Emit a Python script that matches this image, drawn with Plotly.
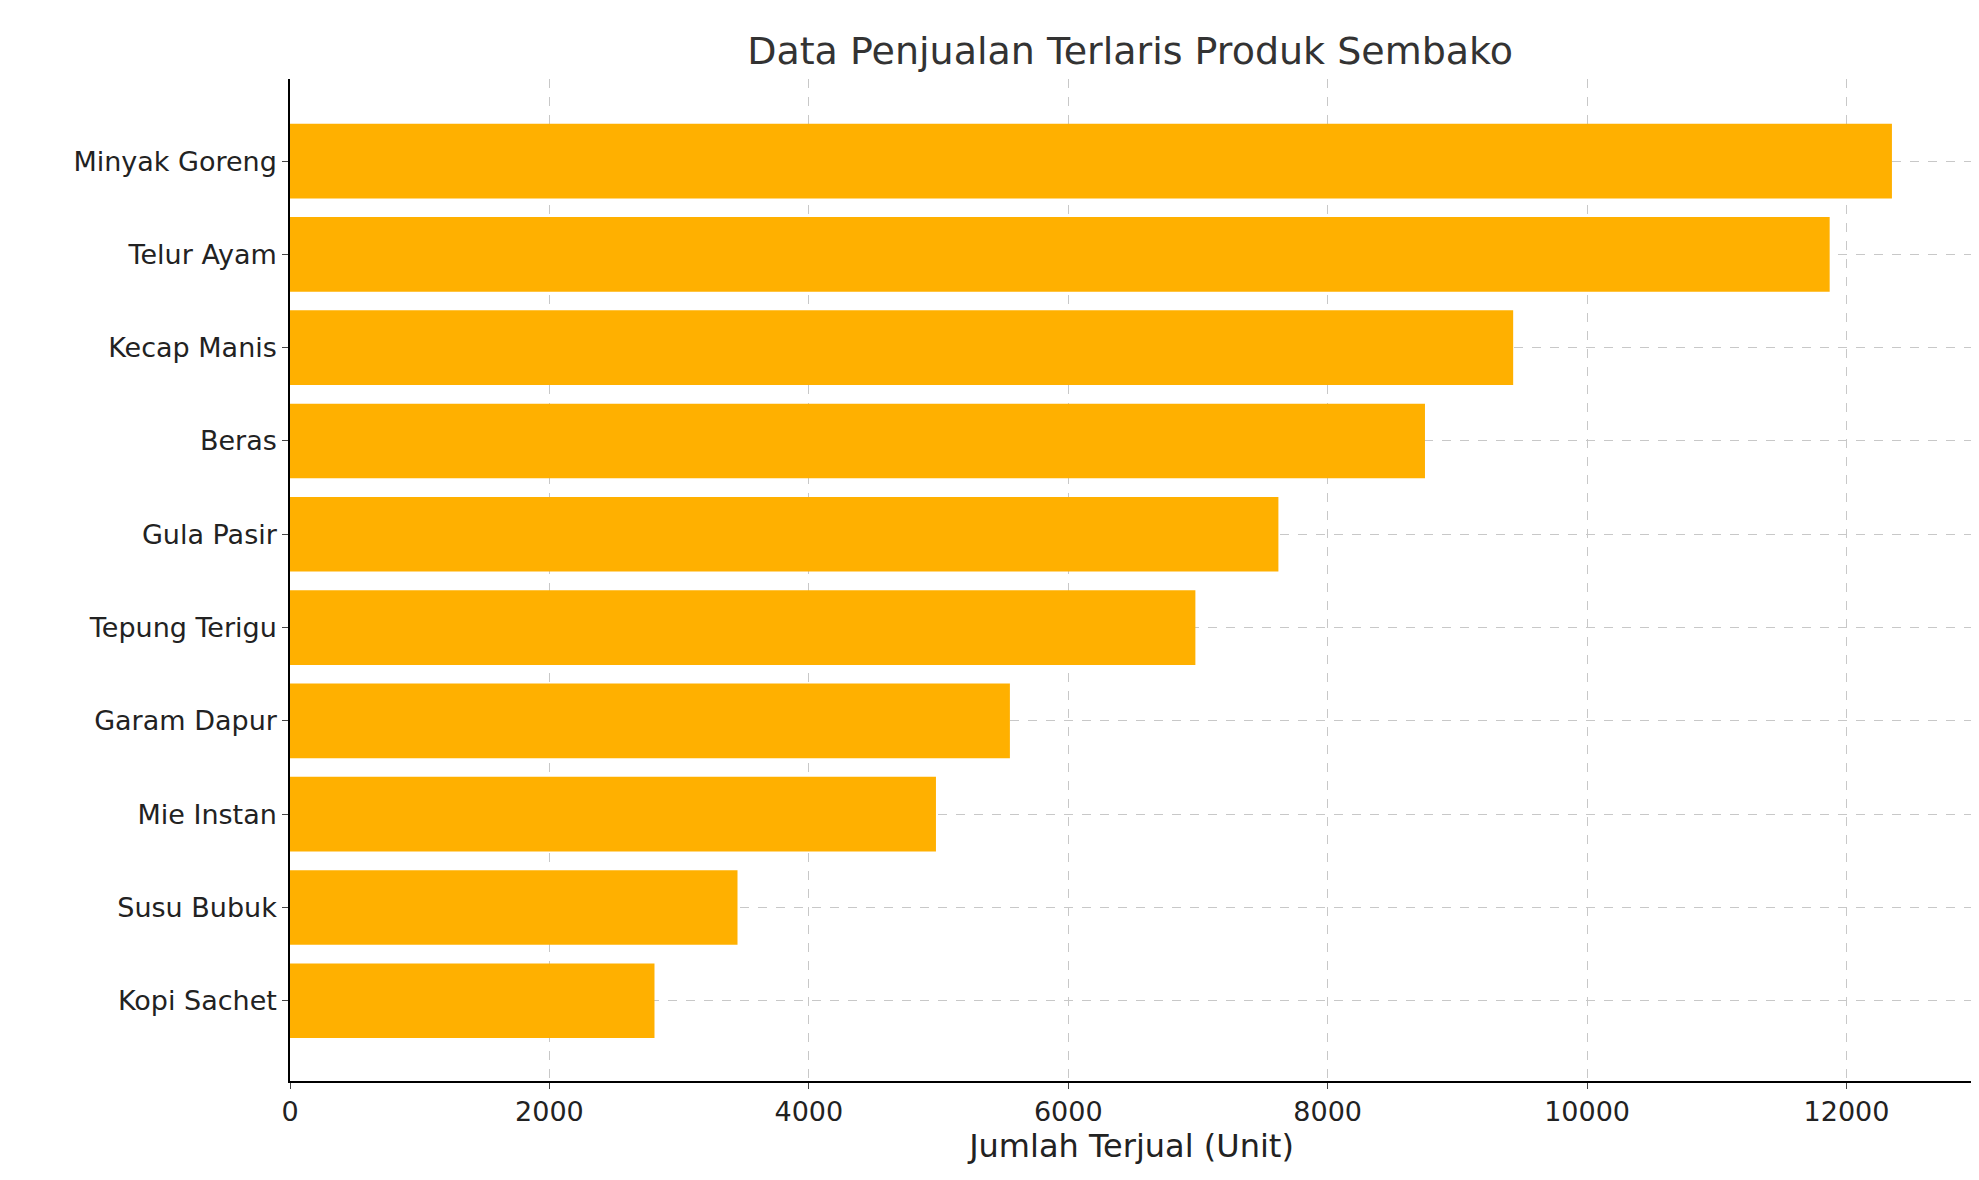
import plotly.graph_objects as go

products = ["Minyak Goreng", "Telur Ayam", "Kecap Manis", "Beras", "Gula Pasir",
            "Tepung Terigu", "Garam Dapur", "Mie Instan", "Susu Bubuk", "Kopi Sachet"]
sold = [12350, 11870, 9430, 8750, 7620, 6980, 5550, 4980, 3450, 2810]

fig = go.Figure(go.Bar(
    x=sold, y=products, orientation="h",
    marker=dict(color="#FFB000", line=dict(width=0)), width=0.8,
))

fig.update_layout(
    width=1979, height=1180,
    paper_bgcolor="white", plot_bgcolor="white",
    font=dict(family="DejaVu Sans", size=27, color="#222"),
    title=dict(text="Data Penjualan Terlaris Produk Sembako", x=0.567, xanchor="center",
               y=0.975, font=dict(size=38, color="#333")),
    margin=dict(l=282, r=14, t=71, b=107),
    showlegend=False,
)
fig.update_xaxes(
    range=[0, 12975], dtick=2000, tickformat="d",
    title=dict(text="Jumlah Terjual (Unit)", standoff=8),
    showline=True, linecolor="black", linewidth=1.5, ticks="outside", ticklen=6,
    showgrid=True, gridcolor="#c8c8c8", griddash="dash", zeroline=False,
)
fig.update_yaxes(
    categoryorder="array", categoryarray=products, range=[9.86, -0.88],
    showline=True, linecolor="black", linewidth=1.5,
    ticks="outside", ticklen=6, showgrid=True, gridcolor="#c8c8c8", griddash="dash",
)
fig.write_html("out.html")
